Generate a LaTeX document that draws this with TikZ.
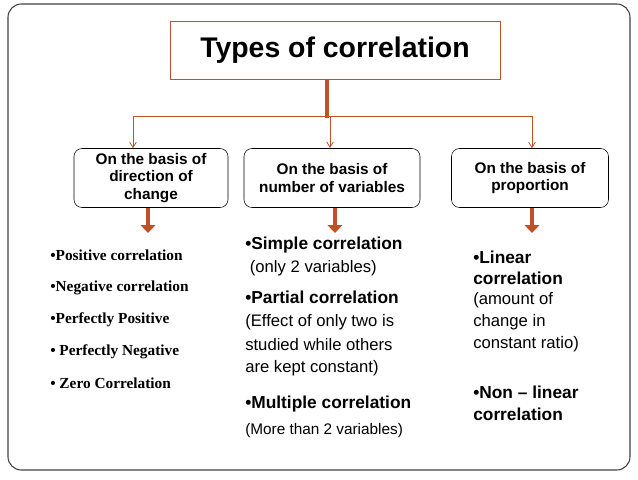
\documentclass[tikz,border=0pt]{standalone}
\usepackage{fontspec}
\setmainfont{Liberation Sans}
\newfontfamily\tms{Liberation Serif}
\usetikzlibrary{arrows.meta}
\definecolor{brn}{RGB}{192,80,40}
\begin{document}
\begin{tikzpicture}[x=0.75pt,y=-0.75pt,
  sub/.style={draw,rounded corners=6pt,align=center,font=\bfseries\fontsize{11.5}{13}\selectfont,inner sep=0pt},
  thin/.style={draw=brn,line width=0.6pt,-{Straight Barb[length=4pt,width=5pt]}},
  thick/.style={draw=brn,line width=3.5pt,-{Triangle[length=6pt,width=11pt]}},
  ls/.style={anchor=west,inner sep=0pt,font=\tms\bfseries\fontsize{11.5}{13}\selectfont},
  hb/.style={anchor=west,inner sep=0pt,font=\bfseries\fontsize{13}{15}\selectfont},
  hn/.style={anchor=west,inner sep=0pt,font=\fontsize{12.5}{15}\selectfont}]
\useasboundingbox (0,0) rectangle (638,479);
\draw[line width=0.8pt,rounded corners=10pt,draw=black!75] (8,4) rectangle (630,470);
\node[draw=brn,minimum width=330*0.75pt,minimum height=58*0.75pt,font=\bfseries\fontsize{21.3}{23}\selectfont] (t) at (335,50) {Types of correlation};
\node[sub,minimum width=154*0.75pt,minimum height=59*0.75pt] (b1) at (151,178) {On the basis of\\direction of\\change};
\node[sub,minimum width=176*0.75pt,minimum height=59*0.75pt] (b2) at (332,178) {On the basis of\\number of variables};
\node[sub,minimum width=157*0.75pt,minimum height=59*0.75pt] (b3) at (530,178) {On the basis of\\proportion};
\coordinate (j) at (327,116);
\coordinate (l) at (133,116);
\coordinate (r) at (532,116);
\draw[draw=brn,line width=3.5pt] (t.south -| j) -- (327,118);
\draw[draw=brn,line width=0.6pt] (l) -- (r);
\draw[thin] (l) -- (l |- b1.north);
\draw[thin] (330,116) -- (330,148);
\draw[thin] (r) -- (r |- b3.north);
\coordinate (a1) at (148,233);\coordinate (a2) at (335,233);\coordinate (a3) at (532,233);
\draw[thick] (b1.south -| a1) -- (a1);
\draw[thick] (b2.south -| a2) -- (a2);
\draw[thick] (b3.south -| a3) -- (a3);
\node[ls] (l1) at (50,255) {•Positive correlation};
\node[ls] (l2) at (50,288) {•Negative correlation};
\node[ls] (l3) at (50,320) {•Perfectly Positive};
\node[ls] (l4) at (50,352) {• Perfectly Negative};
\node[ls] (l5) at (50,383) {• Zero Correlation};
\node[hb] (m1) at (245,245) {•Simple correlation};
\node[hn] (m2) at (245,268) {\ (only 2 variables)};
\node[hb] (m3) at (245,297) {•Partial correlation};
\node[hn] (m4) at (245,322) {(Effect of only two is};
\node[hn] (m5) at (245,345) {studied while others};
\node[hn] (m6) at (245,368) {are kept constant)};
\node[hb] (m7) at (245,404) {•Multiple correlation};
\node[hn,font=\fontsize{11.5}{13}\selectfont] (m8) at (245,431) {(More than 2 variables)};
\node[hb] (r1) at (473,257) {•Linear};
\node[hb] (r2) at (473,278) {correlation};
\node[hn] (r3) at (473,300) {(amount of};
\node[hn] (r4) at (473,322) {change in};
\node[hn] (r5) at (473,344) {constant ratio)};
\node[hb] (r6) at (473,392) {•Non – linear};
\node[hb] (r7) at (473,414) {correlation};
\end{tikzpicture}
\end{document}
